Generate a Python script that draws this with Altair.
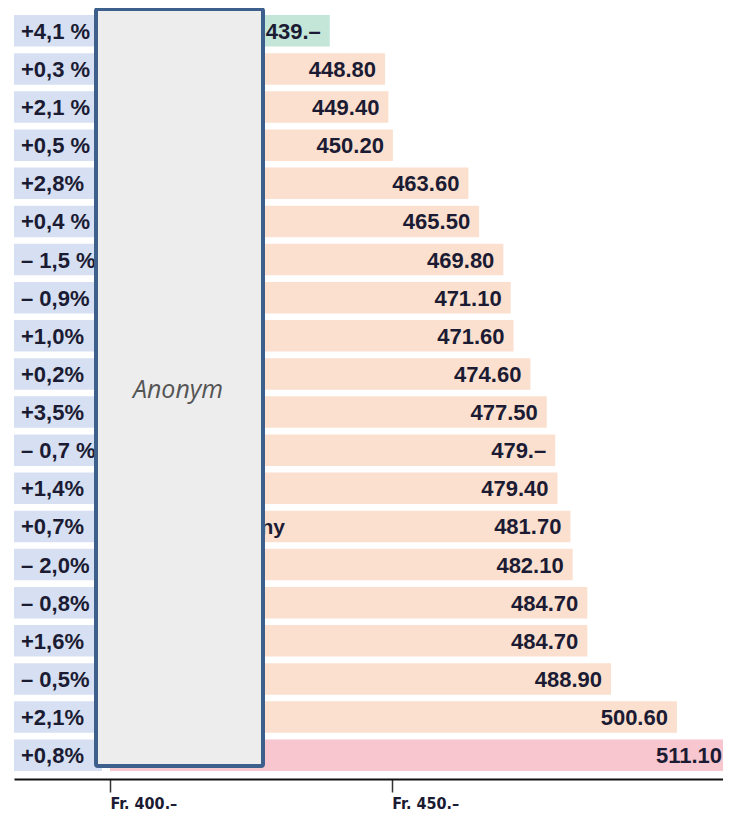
import altair as alt
import pandas as pd

# ---- data ----
values = [439.0, 448.80, 449.40, 450.20, 463.60, 465.50, 469.80, 471.10, 471.60, 474.60,
          477.50, 479.0, 479.40, 481.70, 482.10, 484.70, 484.70, 488.90, 500.60, 511.10]
value_labels = ["439.–", "448.80", "449.40", "450.20", "463.60", "465.50", "469.80", "471.10",
                "471.60", "474.60", "477.50", "479.–", "479.40", "481.70", "482.10", "484.70",
                "484.70", "488.90", "500.60", "511.10"]
changes = ["+4,1 %", "+0,3 %", "+2,1 %", "+0,5 %", "+2,8%", "+0,4 %", "– 1,5 %", "– 0,9%",
           "+1,0%", "+0,2%", "+3,5%", "– 0,7 %", "+1,4%", "+0,7%", "– 2,0%", "– 0,8%",
           "+1,6%", "– 0,5%", "+2,1%", "+0,8%"]
bar_kind = ["low"] + ["mid"] * 18 + ["high"]
hidden_names = [""] * 13 + ["Sunny"] + [""] * 6
tick_values = [400, 450]

rows = list(range(len(values)))
df = pd.DataFrame({
    "row": rows,
    "value": values,
    "vlabel": value_labels,
    "change": changes,
    "kind": bar_kind,
    "name": hidden_names,
})

TEXT = "#1b1b33"
NUM_FONT = "Liberation Sans"

y_enc = alt.Y("row:O", axis=None,
              scale=alt.Scale(paddingInner=0.174, paddingOuter=0.197, align=0.467))

x_scale = alt.Scale(domain=[382.97, 508.77], nice=False, zero=False)

bars = alt.Chart(df).mark_bar(clip=True).encode(
    x=alt.X("value:Q", scale=x_scale,
            axis=alt.Axis(values=tick_values, title=None, grid=False,
                          labelExpr="'Fr. ' + datum.value + '.–'",
                          domainColor="#111111", domainWidth=2,
                          tickColor="#333333", tickWidth=1.5, tickSize=13,
                          labelAlign="left", labelBaseline="top", labelPadding=3,
                          labelFont="DejaVu Sans Condensed, DejaVu Sans",
                          labelFontWeight="bold",
                          labelFontSize=16, labelColor=TEXT)),
    x2=alt.datum(400),
    y=y_enc,
    color=alt.Color("kind:N", legend=None,
                    scale=alt.Scale(domain=["low", "mid", "high"],
                                    range=["#c3e6d9", "#fbe0cf", "#f7c6ce"])),
)

# labels sit inside the bar end; the longest bar runs off the page edge,
# so its label is held at the right edge
value_text = alt.Chart(df).transform_calculate(
    lx="min(datum.value, 510.2)"
).mark_text(
    align="right", baseline="middle", dx=-9, dy=1,
    font=NUM_FONT, fontWeight="bold", fontSize=22, color=TEXT,
).encode(x=alt.X("lx:Q", scale=x_scale), y=y_enc, text="vlabel:N")

pct_box = alt.Chart(df).mark_rect(color="#d6e0f2").encode(
    x=alt.value(0), x2=alt.value(88), y=y_enc)

pct_text = alt.Chart(df).mark_text(
    align="left", baseline="middle", dy=1,
    font=NUM_FONT, fontWeight="bold", fontSize=22, color=TEXT,
).encode(x=alt.value(7), y=y_enc, text="change:N")

name_text = alt.Chart(df).mark_text(
    align="right", baseline="middle", dy=2,
    font=NUM_FONT, fontWeight="bold", fontSize=21, color=TEXT,
).encode(x=alt.value(271), y=y_enc, text="name:N")

anon_box = alt.Chart(df.head(1)).mark_rect(
    fill="#ededed", stroke="#3d5f8c", strokeWidth=4, cornerRadius=2,
).encode(x=alt.value(82), x2=alt.value(249), y=alt.value(1), y2=alt.value(758))

anon_text = alt.Chart(df.head(1)).mark_text(
    text="Anonym", font="Open Sans", fontStyle="italic", fontSize=25,
    color="#555555", align="center", baseline="middle",
).encode(x=alt.value(164), y=alt.value(382))

chart = alt.layer(
    bars, value_text, pct_box, pct_text, name_text, anon_box, anon_text
).properties(
    width=709, height=771,
    autosize=alt.AutoSizeParams(type="none"),
    padding={"left": 6, "top": 0, "right": 0, "bottom": 34},
).configure_view(stroke=None)

chart.save("out.html", embed_options={"renderer": "svg", "actions": False})
